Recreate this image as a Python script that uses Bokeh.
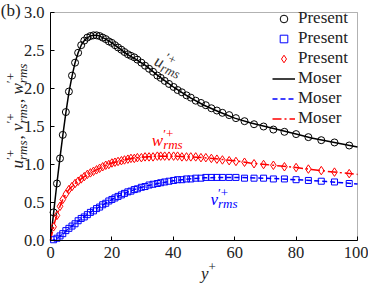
import math
from bokeh.plotting import figure
from bokeh.models import (Range1d, FixedTicker, NumeralTickFormatter, Label,
                          Legend, LegendItem, BoxAnnotation)
from bokeh.embed import file_html
from bokeh.resources import INLINE

# ---------------- data ----------------
# "Present" (markers)
yplus = [1.0, 2.1, 3.1, 4.0, 5.0, 6.0, 7.0, 8.0, 9.0,
         10.0, 11.0, 12.0, 13.0, 14.0, 15.0, 16.0, 17.0, 18.0, 19.0, 20.0,
         21.0, 22.0, 23.1, 24.1, 25.2, 26.2, 27.3,
         28.3, 29.6, 30.8, 32.1, 33.4, 34.8, 35.9, 37.2, 38.6, 40.1,
         41.4, 42.8, 44.3, 45.7, 47.3, 49.0, 50.6, 52.4, 54.2, 56.0,
         58.2, 60.4,
         63.2, 66.3, 69.4, 72.6, 76.2, 80.0, 84.0, 88.2, 92.5, 97.3]
u_present = [0.37, 0.75, 1.08, 1.39, 1.69, 1.96, 2.17, 2.34, 2.47,
             2.57, 2.63, 2.67, 2.69, 2.70, 2.70, 2.69, 2.67, 2.65, 2.62, 2.60,
             2.57, 2.54, 2.51, 2.48, 2.45, 2.43, 2.41,
             2.38, 2.34, 2.30, 2.26, 2.22, 2.17, 2.14, 2.10, 2.06, 2.02,
             1.98, 1.95, 1.91, 1.88, 1.84, 1.81, 1.78, 1.74, 1.71, 1.68,
             1.65, 1.61,
             1.57, 1.53, 1.50, 1.46, 1.43, 1.40, 1.36, 1.32, 1.29, 1.25]
v_present = [0.01, 0.03, 0.06, 0.09, 0.13, 0.16, 0.19, 0.22, 0.26,
             0.29, 0.31, 0.34, 0.37, 0.39, 0.42, 0.44, 0.47, 0.49, 0.52, 0.54,
             0.56, 0.58, 0.60, 0.62, 0.64, 0.65, 0.67,
             0.68, 0.70, 0.71, 0.73, 0.74, 0.75, 0.76, 0.77, 0.78, 0.79,
             0.80, 0.80, 0.81, 0.81, 0.82, 0.82, 0.83, 0.83, 0.83, 0.83,
             0.83, 0.83,
             0.82, 0.82, 0.82, 0.81, 0.81, 0.80, 0.79, 0.78, 0.77, 0.75]
w_present = [0.18, 0.33, 0.45, 0.54, 0.61, 0.67, 0.71, 0.75, 0.78,
             0.81, 0.84, 0.87, 0.89, 0.91, 0.93, 0.95, 0.97, 0.99, 1.00, 1.02,
             1.03, 1.04, 1.05, 1.06, 1.07, 1.08, 1.08,
             1.09, 1.09, 1.10, 1.10, 1.10, 1.11, 1.11, 1.11, 1.11, 1.11,
             1.11, 1.10, 1.10, 1.10, 1.10, 1.09, 1.09, 1.08, 1.07, 1.06,
             1.05, 1.04,
             1.03, 1.01, 1.00, 0.99, 0.97, 0.96, 0.94, 0.92, 0.90, 0.88]

# "Moser" (lines)
yplus_moser = [0, 0.5, 1, 1.5, 2, 3, 4, 5, 6, 7, 8, 9, 10, 11, 12, 13, 14, 15, 16,
               18, 20, 22, 25, 28, 31, 35,
               40, 45, 50, 55, 60, 65, 70, 75, 80, 85, 90, 95, 100]
u_moser = [0, 0.18, 0.36, 0.54, 0.72,
           1.06, 1.38, 1.68, 1.95, 2.16, 2.34, 2.47, 2.57, 2.63, 2.67, 2.69, 2.70, 2.70, 2.69,
           2.65, 2.60, 2.54, 2.45, 2.38, 2.30, 2.17,
           2.02, 1.89, 1.78, 1.69, 1.61, 1.55, 1.50, 1.45, 1.40, 1.35, 1.31, 1.27, 1.23]
v_moser = [0, 0.002, 0.008, 0.017, 0.028,
           0.055, 0.09, 0.125, 0.16, 0.19, 0.22, 0.255, 0.285, 0.315, 0.34, 0.37, 0.395, 0.42, 0.445,
           0.49, 0.54, 0.58, 0.635, 0.68, 0.715, 0.75,
           0.785, 0.81, 0.825, 0.83, 0.83, 0.825, 0.82, 0.81, 0.80, 0.79, 0.775, 0.76, 0.745]
w_moser = [0, 0.09, 0.18, 0.26, 0.32,
           0.44, 0.54, 0.61, 0.67, 0.71, 0.75, 0.78, 0.81, 0.84, 0.87, 0.89, 0.91, 0.93, 0.95,
           0.99, 1.02, 1.04, 1.07, 1.09, 1.10, 1.11,
           1.11, 1.10, 1.09, 1.07, 1.05, 1.02, 1.00, 0.98, 0.96, 0.935, 0.91, 0.89, 0.87]

x_ticks = [0, 20, 40, 60, 80, 100]
y_ticks = [0.0, 0.5, 1.0, 1.5, 2.0, 2.5, 3.0]
legend_labels = ["Present", "Present", "Present", "Moser", "Moser", "Moser"]

# ---------------- layout ----------------
FONT = "Liberation Serif"
BLUE = "#0000ff"
RED = "#ff0000"
FIG_W, FIG_H = 368, 283
ML, MR, MT, MB = 50, 11, 12, 43          # box margins inside the figure (px)
X0, X1, Y0, Y1 = 0, 100, 0.0, 3.0
SX = (FIG_W - ML - MR) / (X1 - X0)
SY = (FIG_H - MT - MB) / (Y1 - Y0)

p = figure(width=FIG_W, height=FIG_H, output_backend="svg", toolbar_location=None,
           x_range=Range1d(X0 - ML / SX, X1 + MR / SX),
           y_range=Range1d(Y0 - MB / SY, Y1 + MT / SY),
           min_border_left=0, min_border_right=0, min_border_top=0,
           min_border_bottom=0)
p.xgrid.visible = False
p.ygrid.visible = False
p.outline_line_color = None
p.background_fill_color = "white"
p.border_fill_color = "white"

for ax, ticks, loc, bnd in ((p.xaxis, x_ticks, Y0, (X0, X1)),
                            (p.yaxis, y_ticks, X0, (Y0, Y1))):
    ax.fixed_location = loc
    ax.bounds = bnd
    ax.ticker = FixedTicker(ticks=ticks)
    ax.major_tick_in = 4
    ax.major_tick_out = 0
    ax.minor_tick_line_color = None
    ax.axis_line_color = "black"
    ax.major_tick_line_color = "black"
    ax.major_label_text_font = FONT
    ax.major_label_text_font_size = "16.5px"
    ax.major_label_text_color = "#222222"
    ax.major_label_standoff = 6
p.yaxis.formatter = NumeralTickFormatter(format="0.0")

# plot box (top/right spines)
p.add_layout(BoxAnnotation(left=X0, right=X1, bottom=Y0, top=Y1, fill_alpha=0,
                           line_color="black", line_width=1))

# Moser lines
l_u = p.line(yplus_moser, u_moser, line_color="black", line_width=1.5)
l_v = p.line(yplus_moser, v_moser, line_color=BLUE, line_width=1.5, line_dash="5 3")
l_w = p.line(yplus_moser, w_moser, line_color=RED, line_width=1.5, line_dash="9 3 2 3")

# Present markers
r_u = p.scatter(yplus, u_present, marker="circle", size=7, fill_color=None,
                line_color="black", line_width=1)
r_v = p.scatter(yplus, v_present, marker="square", size=6, fill_color=None,
                line_color=BLUE, line_width=1)
r_w = p.scatter(yplus, w_present, marker="diamond", size=8.5, fill_color=None,
                line_color=RED, line_width=1)

legend = Legend(items=[LegendItem(label=lab, renderers=[r]) for lab, r in
                       zip(legend_labels, [r_u, r_v, r_w, l_u, l_v, l_w])],
                location=(270, 153), orientation="vertical", padding=2, margin=0,
                spacing=0, glyph_width=23, glyph_height=19, label_height=19,
                label_standoff=3, label_text_font=FONT, label_text_font_size="17px",
                label_text_color="#222222",
                border_line_alpha=0, background_fill_alpha=0)
p.add_layout(legend)

# ---------------- math-like labels built from real text ----------------
WID = {"u": 0.5, "v": 0.444, "w": 0.667, "y": 0.444, "r": 0.389, "m": 0.722,
       "s": 0.389, ",": 0.25, " ": 0.25, "\u2032": 0.3, "+": 0.6}


def tw(t, size):
    return sum(WID.get(ch, 0.5) for ch in t) * size


def add_lbl(x, y, dx, dy, text, angle, color, size, style):
    p.add_layout(Label(x=x, y=y, x_offset=dx, y_offset=dy, text=text, angle=angle,
                       text_font=FONT, text_font_style=style,
                       text_font_size=f"{size}px", text_color=color,
                       text_align="left", text_baseline="alphabetic"))


def math_label(x, y, parts, angle=0.0, color="black", size=17, small=13):
    c, s = math.cos(angle), math.sin(angle)
    nx, ny = -s, c
    adv = 0.0
    for part in parts:
        kind = part[0]
        if kind == "main":
            add_lbl(x, y, adv * c, adv * s, part[1], angle, color, size, "italic")
            adv += tw(part[1], size)
        elif kind == "plain":
            add_lbl(x, y, adv * c, adv * s, part[1], angle, color, size, "normal")
            adv += tw(part[1], size)
        else:
            sup, sub = part[1], part[2]
            up, down = 0.42 * size, 0.26 * size
            w = 0.0
            if sup:
                add_lbl(x, y, adv * c + up * nx, adv * s + up * ny, sup, angle, color,
                        small, "normal")
                w = max(w, tw(sup, small))
            if sub:
                add_lbl(x, y, adv * c - down * nx, adv * s - down * ny, sub, angle, color,
                        small, "italic")
                w = max(w, tw(sub, small))
            adv += w + 1


PR = "\u2032+"
# in-plot curve labels
math_label(34.2, 2.38, [("main", "u"), ("ss", PR, "rms")], angle=-0.42, color="#333333")
math_label(33.0, 1.316, [("main", "w"), ("ss", PR, "rms")], color=RED)
math_label(52.1, 0.539, [("main", "v"), ("ss", PR, "rms")], color=BLUE)

# axis labels
math_label(49.0, -0.44, [("main", "y"), ("ss", "+", "")], color="#222222")
math_label(-10.6, 0.947, [("main", "u"), ("ss", PR, "rms"), ("plain", ", "),
                          ("main", "v"), ("ss", PR, "rms"), ("plain", ", "),
                          ("main", "w"), ("ss", PR, "rms")],
           angle=math.pi / 2, color="#222222")

# panel tag
p.add_layout(Label(x=-16.2, y=3.0, y_offset=2, text="(b)", text_font=FONT,
                   text_font_size="17px", text_color="#222222",
                   text_align="left", text_baseline="alphabetic"))

open("out.html", "w").write(file_html(p, INLINE))
